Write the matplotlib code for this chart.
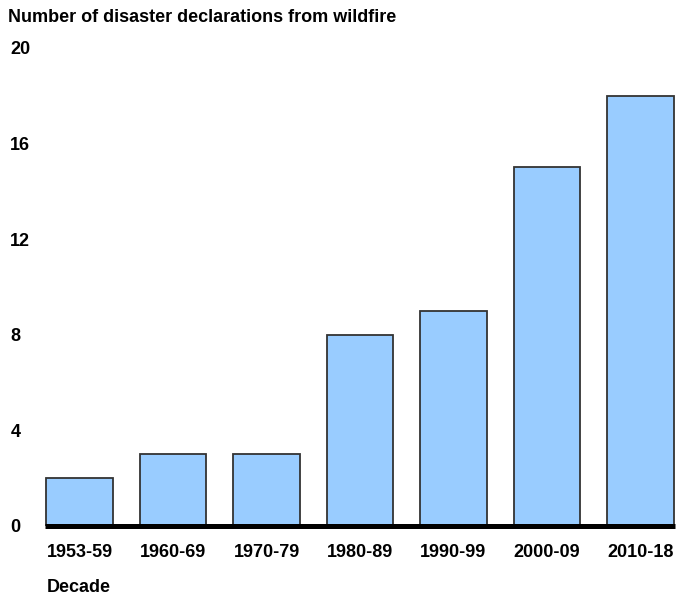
import matplotlib
matplotlib.use("Agg")
import matplotlib.pyplot as plt

decades = ["1953-59", "1960-69", "1970-79", "1980-89", "1990-99", "2000-09", "2010-18"]
declarations = [2, 3, 3, 8, 9, 15, 18]
yticks = [0, 4, 8, 12, 16, 20]

plt.rcParams['font.family'] = ['Liberation Sans', 'DejaVu Sans']

fig = plt.figure(figsize=(6.79, 5.97), dpi=100)
ax = fig.add_axes([45/679, 71/597, 630/679, 478/597])

x = list(range(len(decades)))
ax.bar(x, declarations, width=0.71, color="#99CCFF", edgecolor="#333333", linewidth=1.3, zorder=2)
ax.axhline(0, color="black", linewidth=3.6, zorder=3, clip_on=False, solid_capstyle="butt")

ax.set_xlim(-0.37, 6.37)
ax.set_ylim(0, 20)
ax.set_yticks(yticks)
ax.set_yticklabels([str(t) for t in yticks], fontsize=13, fontweight="bold")
for lbl in ax.get_yticklabels():
    lbl.set_horizontalalignment("left")
ax.tick_params(axis="y", length=0, pad=25)
ax.set_xticks(x)
ax.set_xticklabels(decades, fontsize=13, fontweight="bold")
ax.tick_params(axis="x", length=0, pad=13)
for s in ax.spines.values():
    s.set_visible(False)

fig.text(8/679, 1 - 17/597, "Number of disaster declarations from wildfire",
         fontsize=13, fontweight="bold", ha="left", va="center")
fig.text(47/679, 1 - 588/597, "Decade", fontsize=13, fontweight="bold", ha="left", va="center")

fig.savefig("out.png", dpi=100)
